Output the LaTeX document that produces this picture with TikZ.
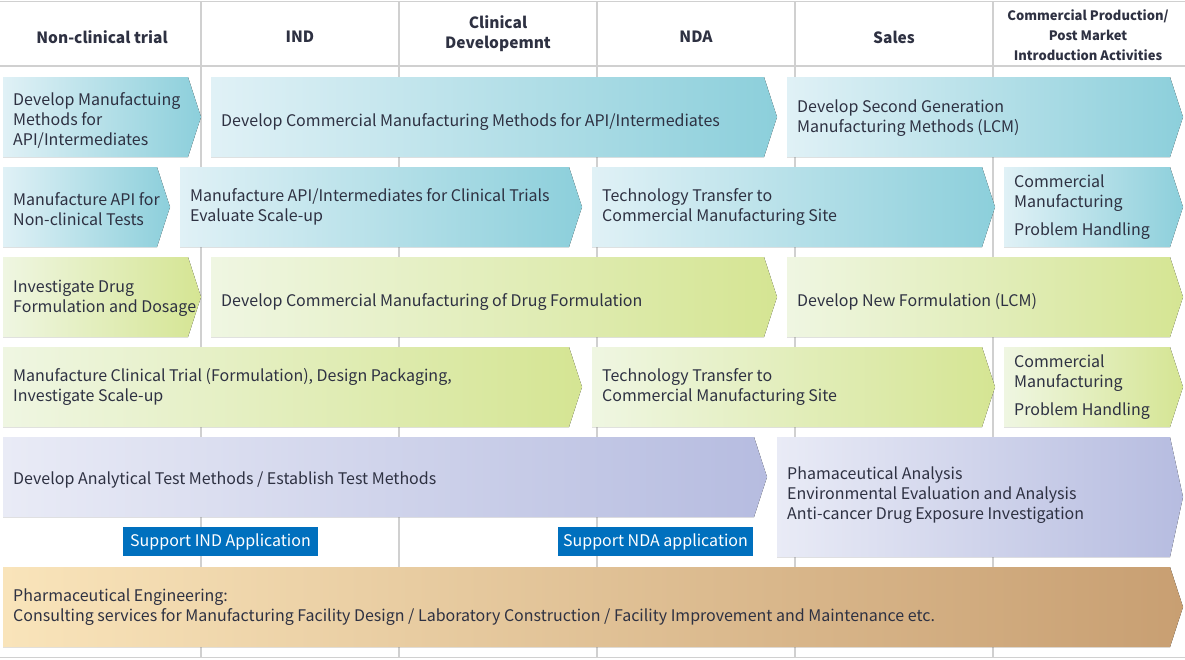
\documentclass[tikz,border=0pt]{standalone}
\usepackage{fontspec}
\setmainfont{Noto Sans CJK JP}
\definecolor{txtc}{HTML}{2E3142}
\definecolor{gridc}{HTML}{D0D0D0}
\definecolor{blA}{HTML}{E0F1F6}
\definecolor{blB}{HTML}{8CCFDB}
\definecolor{grA}{HTML}{EFF6E2}
\definecolor{grB}{HTML}{D5E593}
\definecolor{puA}{HTML}{E9EBF6}
\definecolor{puB}{HTML}{B6BCE0}
\definecolor{tnA}{HTML}{F9E4BA}
\definecolor{tnB}{HTML}{C89F72}
\definecolor{supc}{HTML}{0070BE}
\newcommand\chev[6]{\fill[left color=#5,right color=#6] (#1,#2) -- (#3-13,#2) -- (#3,{(#2+#4)/2}) -- (#3-13,#4) -- (#1,#4) -- cycle;}
\tikzset{
  txt/.style={anchor=west,align=left,inner sep=0pt,yshift=-2pt,text=txtc,font=\fontsize{16}{20}\selectfont},
  head/.style={align=center,inner sep=0pt,yshift=-1pt,text=txtc,font=\bfseries\fontsize{15.5}{20}\selectfont},
  headsm/.style={align=center,inner sep=0pt,yshift=-1pt,text=txtc,font=\bfseries\fontsize{13}{20}\selectfont},
  supbox/.style={fill=supc,text=white,inner sep=0pt,minimum width=195pt,minimum height=29pt,font=\fontsize{16}{20}\selectfont},
  gridline/.style={draw=gridc,line width=1.5pt}
}
\begin{document}
\begin{tikzpicture}[x=1pt,y=-1pt]
\useasboundingbox (0,0) rectangle (1185,659);
\fill[white] (0,0) rectangle (1185,659);
% grid
\draw[gridline] (0,1.5) -- (1185,1.5);
\draw[gridline] (0,66) -- (1185,66);
\draw[gridline] (0,657.5) -- (1185,657.5);
\foreach \gx in {201,399,597,795,993} {\draw[gridline] (\gx,1.5) -- (\gx,657.5);}
% headers
\node[head] (h1) at (102,36) {Non-clinical trial};
\node[head] (h2) at (300,36) {IND};
\node[head] (h3) at (498,33) {Clinical\\Developemnt};
\node[head] (h4) at (696,36) {NDA};
\node[head] (h5) at (894,36) {Sales};
\node[headsm] (h6) at (1088,34) {Commercial Production/\\Post Market\\Introduction Activities};
% row 1
\chev{3}{77}{201}{157}{blA}{blB}
\chev{211}{77}{777}{157}{blA}{blB}
\chev{787}{77}{1183}{157}{blA}{blB}
\node[txt] (a1) at (13,118) {Develop Manufactuing\\Methods for\\API/Intermediates};
\node[txt] (a2) at (221,120) {Develop Commercial Manufacturing Methods for API/Intermediates};
\node[txt] (a3) at (797,116) {Develop Second Generation\\Manufacturing Methods (LCM)};
% row 2
\chev{3}{167}{170}{247}{blA}{blB}
\chev{180}{167}{582}{247}{blA}{blB}
\chev{592}{167}{995}{247}{blA}{blB}
\chev{1004}{167}{1183}{247}{blA}{blB}
\node[txt] (b1) at (13,207) {Manufacture API for\\Non-clinical Tests};
\node[txt] (b2) at (190,205) {Manufacture API/Intermediates for Clinical Trials\\Evaluate Scale-up};
\node[txt] (b3) at (602,205) {Technology Transfer to\\Commercial Manufacturing Site};
\node[txt] (b4) at (1014,205) {Commercial\\Manufacturing\\[8pt]Problem Handling};
% row 3
\chev{3}{257}{201}{337}{grA}{grB}
\chev{211}{257}{777}{337}{grA}{grB}
\chev{787}{257}{1183}{337}{grA}{grB}
\node[txt] (c1) at (13,296) {Investigate Drug\\Formulation and Dosage};
\node[txt] (c2) at (221,300) {Develop Commercial Manufacturing of Drug Formulation};
\node[txt] (c3) at (797,300) {Develop New Formulation (LCM)};
% row 4
\chev{3}{347}{582}{427}{grA}{grB}
\chev{592}{347}{995}{427}{grA}{grB}
\chev{1004}{347}{1183}{427}{grA}{grB}
\node[txt] (d1) at (13,385) {Manufacture Clinical Trial (Formulation), Design Packaging,\\Investigate Scale-up};
\node[txt] (d2) at (602,385) {Technology Transfer to\\Commercial Manufacturing Site};
\node[txt] (d3) at (1014,385) {Commercial\\Manufacturing\\[8pt]Problem Handling};
% row 5
\chev{3}{437}{767}{517}{puA}{puB}
\chev{777}{437}{1183}{557}{puA}{puB}
\node[txt] (e1) at (13,478) {Develop Analytical Test Methods / Establish Test Methods};
\node[txt] (e2) at (787,493) {Phamaceutical Analysis\\Environmental Evaluation and Analysis\\Anti-cancer Drug Exposure Investigation};
\node[supbox] (s1) at (220.5,541.5) {Support IND Application};
\node[supbox] (s2) at (655.5,541.5) {Support NDA application};
% row 6
\chev{3}{567}{1183}{647}{tnA}{tnB}
\node[txt] (f1) at (13,605) {Pharmaceutical Engineering:\\Consulting services for Manufacturing Facility Design / Laboratory Construction / Facility Improvement and Maintenance etc.};
\end{tikzpicture}
\end{document}
